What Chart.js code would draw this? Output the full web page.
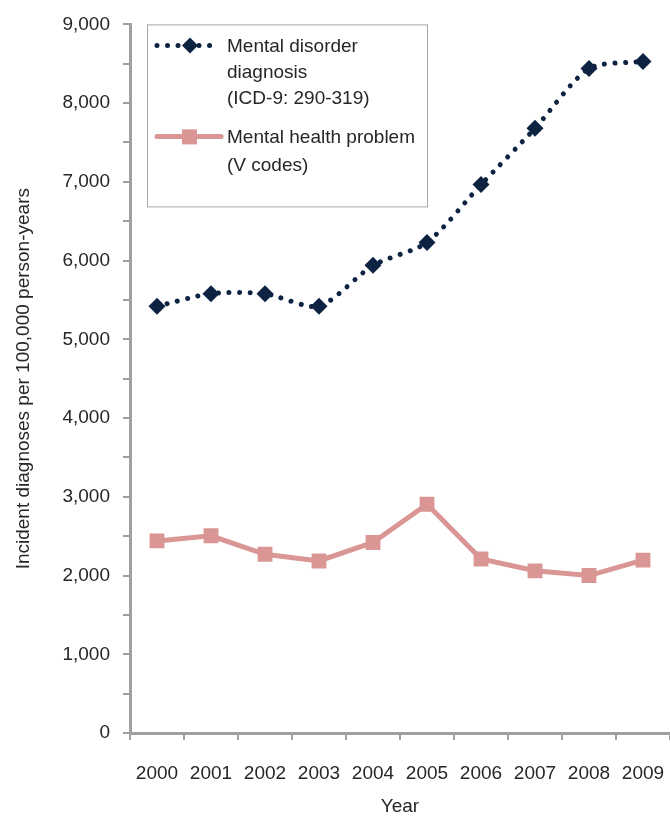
<!DOCTYPE html>
<html>
<head>
<meta charset="utf-8">
<script src="https://cdn.jsdelivr.net/npm/chart.js@4/dist/chart.umd.min.js"></script>
<style>
  html, body { margin: 0; padding: 0; background: #fff; }
  #wrap { width: 670px; height: 818px; }
</style>
</head>
<body>
<div id="wrap"><canvas id="lineCanvas" width="670" height="818"></canvas></div>
<script>
const years = ["2000","2001","2002","2003","2004","2005","2006","2007","2008","2009"];
const disorder = [5420, 5580, 5580, 5420, 5940, 6230, 6965, 7680, 8440, 8530];
const vcodes = [2440, 2505, 2270, 2185, 2420, 2905, 2210, 2060, 2000, 2195];
const disorderLabel = ["Mental disorder", "diagnosis", "(ICD-9: 290-319)"];
const vcodesLabel = ["Mental health problem", "(V codes)"];

const navy = "#0d2341";
const pink = "#d99694";
const axisGrey = "#a0a0a0";
const textCol = "#262626";
const font = "Liberation Sans, Arial, sans-serif";

// legend box drawn inside the plot, like the original
const boxLegend = {
    id: "boxLegend",
    afterDraw(chart){
        const ctx = chart.ctx;
        const a = chart.chartArea;
        const x0 = a.left + 17, y0 = a.top, w = 280, h = 182;
        ctx.save();
        ctx.strokeStyle = "#a6a6a6";
        ctx.lineWidth = 1;
        ctx.strokeRect(x0 + 0.5, y0 + 0.5, w, h);

        // sample 1: dotted line + diamond
        let sy = y0 + 21;
        ctx.strokeStyle = navy;
        ctx.lineWidth = 5;
        ctx.lineCap = "round";
        ctx.setLineDash([0.01, 10.5]);
        ctx.beginPath();
        ctx.moveTo(x0 + 10, sy);
        ctx.lineTo(x0 + 72, sy);
        ctx.stroke();
        ctx.setLineDash([]);
        ctx.fillStyle = navy;
        ctx.beginPath();
        ctx.moveTo(x0 + 43, sy - 8);
        ctx.lineTo(x0 + 51, sy);
        ctx.lineTo(x0 + 43, sy + 8);
        ctx.lineTo(x0 + 35, sy);
        ctx.closePath();
        ctx.fill();

        // sample 2: solid line + square
        let sy2 = y0 + 112;
        ctx.strokeStyle = pink;
        ctx.lineWidth = 5;
        ctx.lineCap = "round";
        ctx.beginPath();
        ctx.moveTo(x0 + 10, sy2);
        ctx.lineTo(x0 + 74, sy2);
        ctx.stroke();
        ctx.fillStyle = pink;
        ctx.fillRect(x0 + 35, sy2 - 7, 15, 15);

        ctx.fillStyle = textCol;
        ctx.font = "19px " + font;
        ctx.textBaseline = "middle";
        ctx.textAlign = "left";
        disorderLabel.forEach((t, i) => ctx.fillText(t, x0 + 80, y0 + 22 + i * 26));
        vcodesLabel.forEach((t, i) => ctx.fillText(t, x0 + 80, y0 + 113 + i * 28));
        ctx.restore();
    }
};

const lineCanvas = document.getElementById("lineCanvas");
const lineChart = new Chart(lineCanvas, {
    type: "line",
    data: {
        labels: years,
        datasets: [{
            label: "Mental disorder diagnosis (ICD-9: 290-319)",
            data: disorder,
            borderColor: navy,
            backgroundColor: navy,
            borderWidth: 5,
            borderDash: [0.01, 10.5],
            borderCapStyle: "round",
            pointStyle: "rectRot",
            pointRadius: 8.5,
            pointBorderWidth: 0,
            tension: 0.25
        },{
            label: "Mental health problem (V codes)",
            data: vcodes,
            borderColor: pink,
            backgroundColor: pink,
            borderWidth: 5,
            pointStyle: "rect",
            pointRadius: 10.5,
            pointBorderWidth: 0,
            tension: 0
        }]
    },
    options: {
        responsive: false,
        animation: false,
        layout: { autoPadding: false, padding: { top: 11, right: 0, left: 0, bottom: 0 } },
        plugins: {
            legend: { display: false },
            tooltip: { enabled: false }
        },
        scales: {
            x: {
                type: "category",
                offset: true,
                grid: { offset: true, drawOnChartArea: false, drawTicks: true, tickLength: 7, color: axisGrey, lineWidth: 2 },
                border: { display: true, color: axisGrey, width: 3 },
                ticks: { color: textCol, font: { size: 19, family: font }, padding: 22, maxRotation: 0 },
                title: { display: true, text: "Year", color: textCol, font: { size: 19, family: font }, padding: { top: 0, bottom: 0 } },
                afterFit(scale){
                    scale.height = 85;
                    scale.paddingLeft = 0;
                    scale.paddingRight = 0;
                }
            },
            y: {
                min: 0,
                max: 9000,
                grid: { drawOnChartArea: false, drawTicks: true, tickLength: 7, color: axisGrey, lineWidth: 2 },
                border: { display: true, color: axisGrey, width: 3 },
                ticks: {
                    stepSize: 500,
                    autoSkip: false,
                    color: textCol,
                    font: { size: 19, family: font },
                    padding: 13,
                    callback: v => v % 1000 === 0 ? v.toLocaleString("en-US") : ""
                },
                title: { display: true, text: "Incident diagnoses per 100,000 person-years", color: textCol, font: { size: 19, family: font }, padding: { top: 12, bottom: 0 } },
                afterFit(scale){
                    scale.width = 130;
                }
            }
        }
    },
    plugins: [boxLegend]
});
</script>
</body>
</html>
